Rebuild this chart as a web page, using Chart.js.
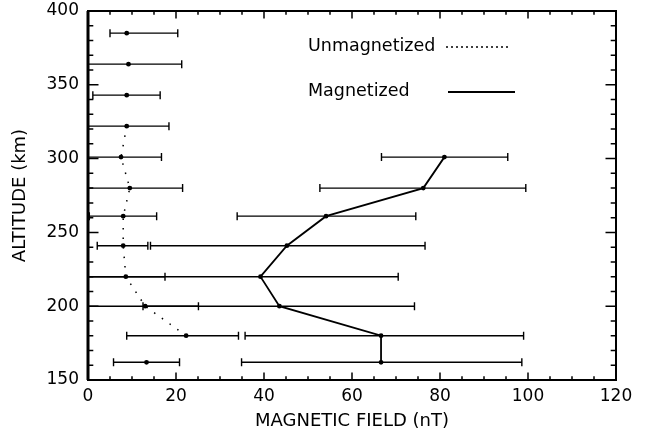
<!DOCTYPE html>
<html>
<head>
<meta charset="utf-8">
<title>Magnetic field vs altitude</title>
<script src="https://cdn.jsdelivr.net/npm/chart.js@4.4.1/dist/chart.umd.min.js"></script>
<style>
  html,body{margin:0;padding:0;background:#fff;}
  #wrap{width:652px;height:436px;}
</style>
</head>
<body>
<div id="wrap"><canvas id="fieldChart" width="652" height="436"></canvas></div>
<script>
// altitudes (km) of each profile row
const unmagAlt = [385, 364, 343, 322, 301, 280, 261, 241, 220, 200, 180, 162];
const unmagVal = [8.8, 9.2, 8.8, 8.8, 7.5, 9.5, 8.0, 8.0, 8.6, 13.0, 22.3, 13.3];
const unmagLo  = [5.0, 0, 1.1, 0, 0, 0, 0.3, 2.1, 0, 0, 8.8, 5.8];
const unmagHi  = [20.4, 21.3, 16.4, 18.4, 16.7, 21.5, 15.6, 13.6, 17.5, 25.1, 34.2, 20.8];
// the dotted profile only joins the rows from 322 km down to 180 km
const unmagLineFrom = 3, unmagLineTo = 11;

const magAlt = [301, 280, 261, 241, 220, 200, 180, 162];
const magVal = [81.0, 76.2, 54.1, 45.2, 39.2, 43.5, 66.6, 66.6];
const magLo  = [66.7, 52.7, 33.9, 14.2, 0, 12.5, 35.7, 34.9];
const magHi  = [95.4, 99.5, 74.5, 76.6, 70.5, 74.2, 99.0, 98.6];

const xTicks = [0, 20, 40, 60, 80, 100, 120];
const yTicks = [150, 200, 250, 300, 350, 400];

const legendItems = ['Unmagnetized', 'Magnetized'];

const FONT = 'DejaVu Sans';

function toPoints(xs, ys){
  return xs.map((v,i)=> ({x: v, y: ys[i]}));
}

// horizontal error bars with small end caps
const errorBars = {
  id: 'errorBars',
  beforeDatasetsDraw(chart){
    const ctx = chart.ctx;
    const xs = chart.scales.x, ys = chart.scales.y;
    const sets = [[unmagAlt, unmagLo, unmagHi], [magAlt, magLo, magHi]];
    ctx.save();
    ctx.strokeStyle = '#000';
    ctx.lineWidth = 1.4;
    sets.forEach(([alt, lo, hi])=>{
      alt.forEach((a,i)=>{
        const y = ys.getPixelForValue(a);
        const x1 = xs.getPixelForValue(lo[i]);
        const x2 = xs.getPixelForValue(hi[i]);
        ctx.beginPath();
        ctx.moveTo(x1, y); ctx.lineTo(x2, y);
        ctx.moveTo(x1, y-4); ctx.lineTo(x1, y+4);
        ctx.moveTo(x2, y-4); ctx.lineTo(x2, y+4);
        ctx.stroke();
      });
    });
    ctx.restore();
  }
};

// IDL style box with inward ticks on all four sides, plus the legend
const frame = {
  id: 'frame',
  afterDraw(chart){
    const ctx = chart.ctx;
    const a = chart.chartArea;
    const xs = chart.scales.x, ys = chart.scales.y;
    ctx.save();
    ctx.strokeStyle = '#000';
    ctx.lineWidth = 2;
    ctx.strokeRect(a.left, a.top, a.right - a.left, a.bottom - a.top);
    ctx.lineWidth = 3;
    ctx.beginPath(); ctx.moveTo(a.left, a.top); ctx.lineTo(a.left, a.bottom); ctx.stroke();
    ctx.lineWidth = 1.5;
    ctx.beginPath();
    for(let v = xs.min; v <= xs.max; v += 5){
      const x = xs.getPixelForValue(v);
      const len = v % 20 === 0 ? 7.4 : 3.7;
      ctx.moveTo(x, a.bottom); ctx.lineTo(x, a.bottom - len);
      ctx.moveTo(x, a.top); ctx.lineTo(x, a.top + len);
    }
    for(let v = ys.min; v <= ys.max; v += 10){
      const y = ys.getPixelForValue(v);
      const len = v % 50 === 0 ? 10.5 : 5.3;
      ctx.moveTo(a.left, y); ctx.lineTo(a.left + len, y);
      ctx.moveTo(a.right, y); ctx.lineTo(a.right - len, y);
    }
    ctx.stroke();

    // legend
    ctx.fillStyle = '#000';
    ctx.font = '17.5px "' + FONT + '"';
    ctx.textBaseline = 'middle';
    ctx.textAlign = 'left';
    ctx.fillText(legendItems[0], 308, 46);
    ctx.fillText(legendItems[1], 308, 91);
    ctx.lineWidth = 1.4;
    ctx.setLineDash([2, 3]);
    ctx.beginPath(); ctx.moveTo(446, 47); ctx.lineTo(509, 47); ctx.stroke();
    ctx.setLineDash([]);
    ctx.lineWidth = 1.8;
    ctx.beginPath(); ctx.moveTo(448, 92); ctx.lineTo(515, 92); ctx.stroke();
    ctx.restore();
  }
};

const ctx = document.getElementById('fieldChart').getContext('2d');
const chart = new Chart(ctx, {
  type: 'scatter',
  data: {
    datasets: [
      {
        label: legendItems[0],
        data: toPoints(unmagVal, unmagAlt),
        pointRadius: 2.4,
        pointBackgroundColor: '#000',
        pointBorderWidth: 0
      },
      {
        label: legendItems[0] + ' profile',
        data: toPoints(unmagVal, unmagAlt).slice(unmagLineFrom, unmagLineTo),
        showLine: true,
        borderColor: '#000',
        borderWidth: 1.5,
        borderDash: [1.5, 8],
        pointRadius: 0
      },
      {
        label: legendItems[1],
        data: toPoints(magVal, magAlt),
        showLine: true,
        borderColor: '#000',
        borderWidth: 1.8,
        pointRadius: 2.4,
        pointBackgroundColor: '#000',
        pointBorderWidth: 0
      }
    ]
  },
  options: {
    responsive: false,
    animation: false,
    devicePixelRatio: 1,
    layout: { padding: { top: 11, right: 36, left: 0, bottom: 0 } },
    plugins: { legend: { display: false }, tooltip: { enabled: false } },
    scales: {
      x: {
        type: 'linear', min: 0, max: 120,
        afterBuildTicks: s => { s.ticks = xTicks.map(v=> ({value: v})); },
        ticks: { color: '#000', font: { family: FONT, size: 17 }, padding: 6, maxRotation: 0 },
        grid: { display: false, drawTicks: false },
        border: { display: false },
        title: { display: true, text: 'MAGNETIC FIELD (nT)', color: '#000', font: { family: FONT, size: 18 }, padding: { top: 0, bottom: 4 } },
        afterFit: s => { s.height = 56; }
      },
      y: {
        type: 'linear', min: 150, max: 400,
        afterBuildTicks: s => { s.ticks = yTicks.map(v=> ({value: v})); },
        ticks: { color: '#000', font: { family: FONT, size: 17 }, padding: 9 },
        grid: { display: false, drawTicks: false },
        border: { display: false },
        title: { display: true, text: 'ALTITUDE (km)', color: '#000', font: { family: FONT, size: 18 }, padding: { top: 10, bottom: 0 } },
        afterFit: s => { s.width = 88; s.paddingTop = 0; s.paddingBottom = 0; }
      }
    }
  },
  plugins: [errorBars, frame]
});
</script>
</body>
</html>
